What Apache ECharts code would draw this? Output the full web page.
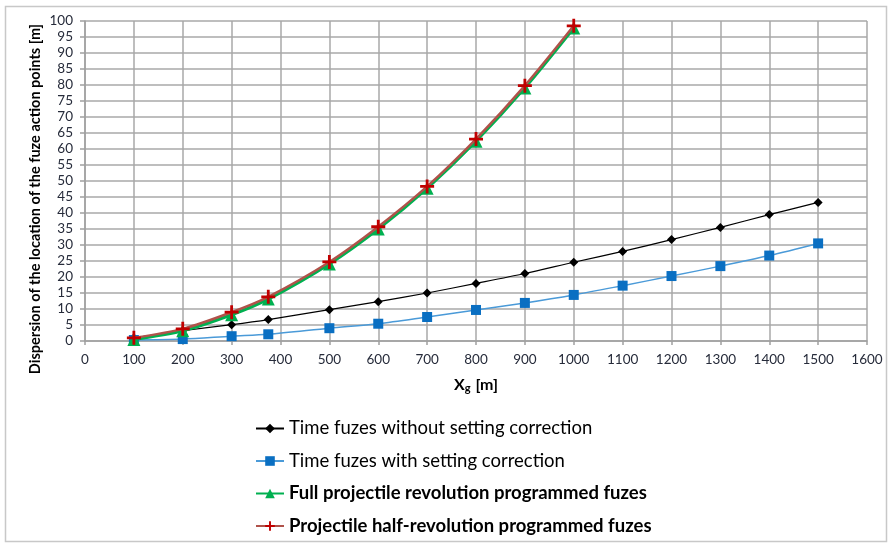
<!DOCTYPE html>
<html>
<head>
<meta charset="utf-8">
<script src="https://cdn.jsdelivr.net/npm/echarts@6/dist/echarts.min.js"></script>
<style>
  html, body { margin: 0; padding: 0; background: #fff; }
  #chart { width: 892px; height: 547px; }
</style>
</head>
<body>
<div id="chart"></div>
<script>
// range Xg [m]
const xLong = [100, 200, 300, 375, 500, 600, 700, 800, 900, 1000, 1100, 1200, 1300, 1400, 1500]
const xShort = [100, 200, 300, 375, 500, 600, 700, 800, 900, 1000]

const timeNoCorr = [1.0, 3.2, 5.1, 6.7, 9.8, 12.3, 15.0, 18.0, 21.1, 24.6, 28.0, 31.7, 35.5, 39.5, 43.3]
const timeCorr = [0.3, 0.6, 1.5, 2.1, 4.0, 5.4, 7.5, 9.7, 11.9, 14.4, 17.3, 20.3, 23.4, 26.7, 30.5]
const fullRev = [0.5, 3.2, 8.2, 13.1, 24.1, 35.0, 47.7, 62.4, 79.1, 97.8]
const halfRev = [1.0, 3.8, 9.0, 13.8, 24.7, 35.7, 48.3, 63.1, 79.8, 98.5]

const names = [
  'Time fuzes without setting correction',
  'Time fuzes with setting correction',
  'Full projectile revolution programmed fuzes',
  'Projectile half-revolution programmed fuzes'
]

const pairs = (xs, ys) => xs.map((x, i) => [x, ys[i]])
const plus = 'path://M4,0H6V4H10V6H6V10H4V6H0V4H4Z'
const font = 'Lato, "Liberation Sans", sans-serif'

const chart = echarts.init(document.getElementById('chart'))

const option = {
  animation: false,
  textStyle: { fontFamily: font },
  grid: { left: 85, right: 25, top: 21, bottom: 206 },
  legend: {
    orient: 'vertical',
    left: 250,
    top: 414,
    itemGap: 13.5,
    itemWidth: 28,
    itemHeight: 12,
    textStyle: { fontSize: 18.5, color: '#000', fontFamily: font },
    data: [
      { name: names[0] },
      { name: names[1] },
      { name: names[2], textStyle: { fontWeight: 'bold' } },
      { name: names[3], textStyle: { fontWeight: 'bold' } }
    ]
  },
  xAxis: {
    type: 'value',
    min: 0,
    max: 1600,
    interval: 100,
    name: '{b|X}{s|g}{b| [m]}',
    nameLocation: 'middle',
    nameGap: 34,
    nameTextStyle: {
      rich: {
        b: { fontSize: 16, fontWeight: 'bold', color: '#000', fontFamily: font },
        s: { fontSize: 11, fontWeight: 'bold', color: '#000', fontFamily: font, verticalAlign: 'bottom', padding: [8, 1, 0, 0] }
      }
    },
    axisLine: { lineStyle: { color: '#a0a0a0', width: 1.5 } },
    axisTick: { show: true, length: 4, lineStyle: { color: '#a0a0a0', width: 1.5 } },
    axisLabel: { fontSize: 13.5, color: '#262b3a', margin: 12, formatter: v => String(v) },
    splitLine: { show: true, lineStyle: { color: '#a8a8a8', width: 1.5 } }
  },
  yAxis: {
    type: 'value',
    min: 0,
    max: 100,
    interval: 5,
    axisLine: { show: true, lineStyle: { color: '#a0a0a0', width: 1.5 } },
    axisTick: { show: true, length: 5, lineStyle: { color: '#a0a0a0', width: 1.5 } },
    axisLabel: { fontSize: 13.5, color: '#262b3a', margin: 12, formatter: v => String(v) },
    splitLine: { show: true, lineStyle: { color: '#a8a8a8', width: 1.5 } }
  },
  graphic: [
    {
      type: 'rect',
      shape: { x: 5.5, y: 6.5, width: 881, height: 535 },
      style: { fill: 'none', stroke: '#c8c8c8', lineWidth: 1.5 },
      silent: true
    },
    {
      type: 'text',
      x: 35,
      y: 199,
      rotation: Math.PI / 2,
      style: {
        text: 'Dispersion of the location of the fuze action points [m]',
        font: 'bold 14.5px ' + font,
        fill: '#000',
        align: 'center',
        verticalAlign: 'middle'
      }
    }
  ],
  series: [
    {
      name: names[0],
      type: 'line',
      smooth: 0.3,
      data: pairs(xLong, timeNoCorr),
      symbol: 'diamond',
      symbolSize: 9,
      lineStyle: { color: '#000', width: 1.2 },
      itemStyle: { color: '#000' },
      z: 3
    },
    {
      name: names[1],
      type: 'line',
      smooth: 0.3,
      data: pairs(xLong, timeCorr),
      symbol: 'rect',
      symbolSize: 10,
      lineStyle: { color: '#4a9ad8', width: 1.5 },
      itemStyle: { color: '#0a6fc2' },
      z: 3
    },
    {
      name: names[2],
      type: 'line',
      smooth: 0.3,
      data: pairs(xShort, fullRev),
      symbol: 'triangle',
      symbolSize: 13,
      lineStyle: { color: '#00b050', width: 3 },
      itemStyle: { color: '#00b050' },
      z: 4
    },
    {
      name: names[3],
      type: 'line',
      smooth: 0.3,
      data: pairs(xShort, halfRev),
      symbol: plus,
      symbolSize: 14,
      lineStyle: { color: '#b0524a', width: 2.5 },
      itemStyle: { color: '#c00000' },
      z: 5
    }
  ]
}

chart.setOption(option)
</script>
</body>
</html>
